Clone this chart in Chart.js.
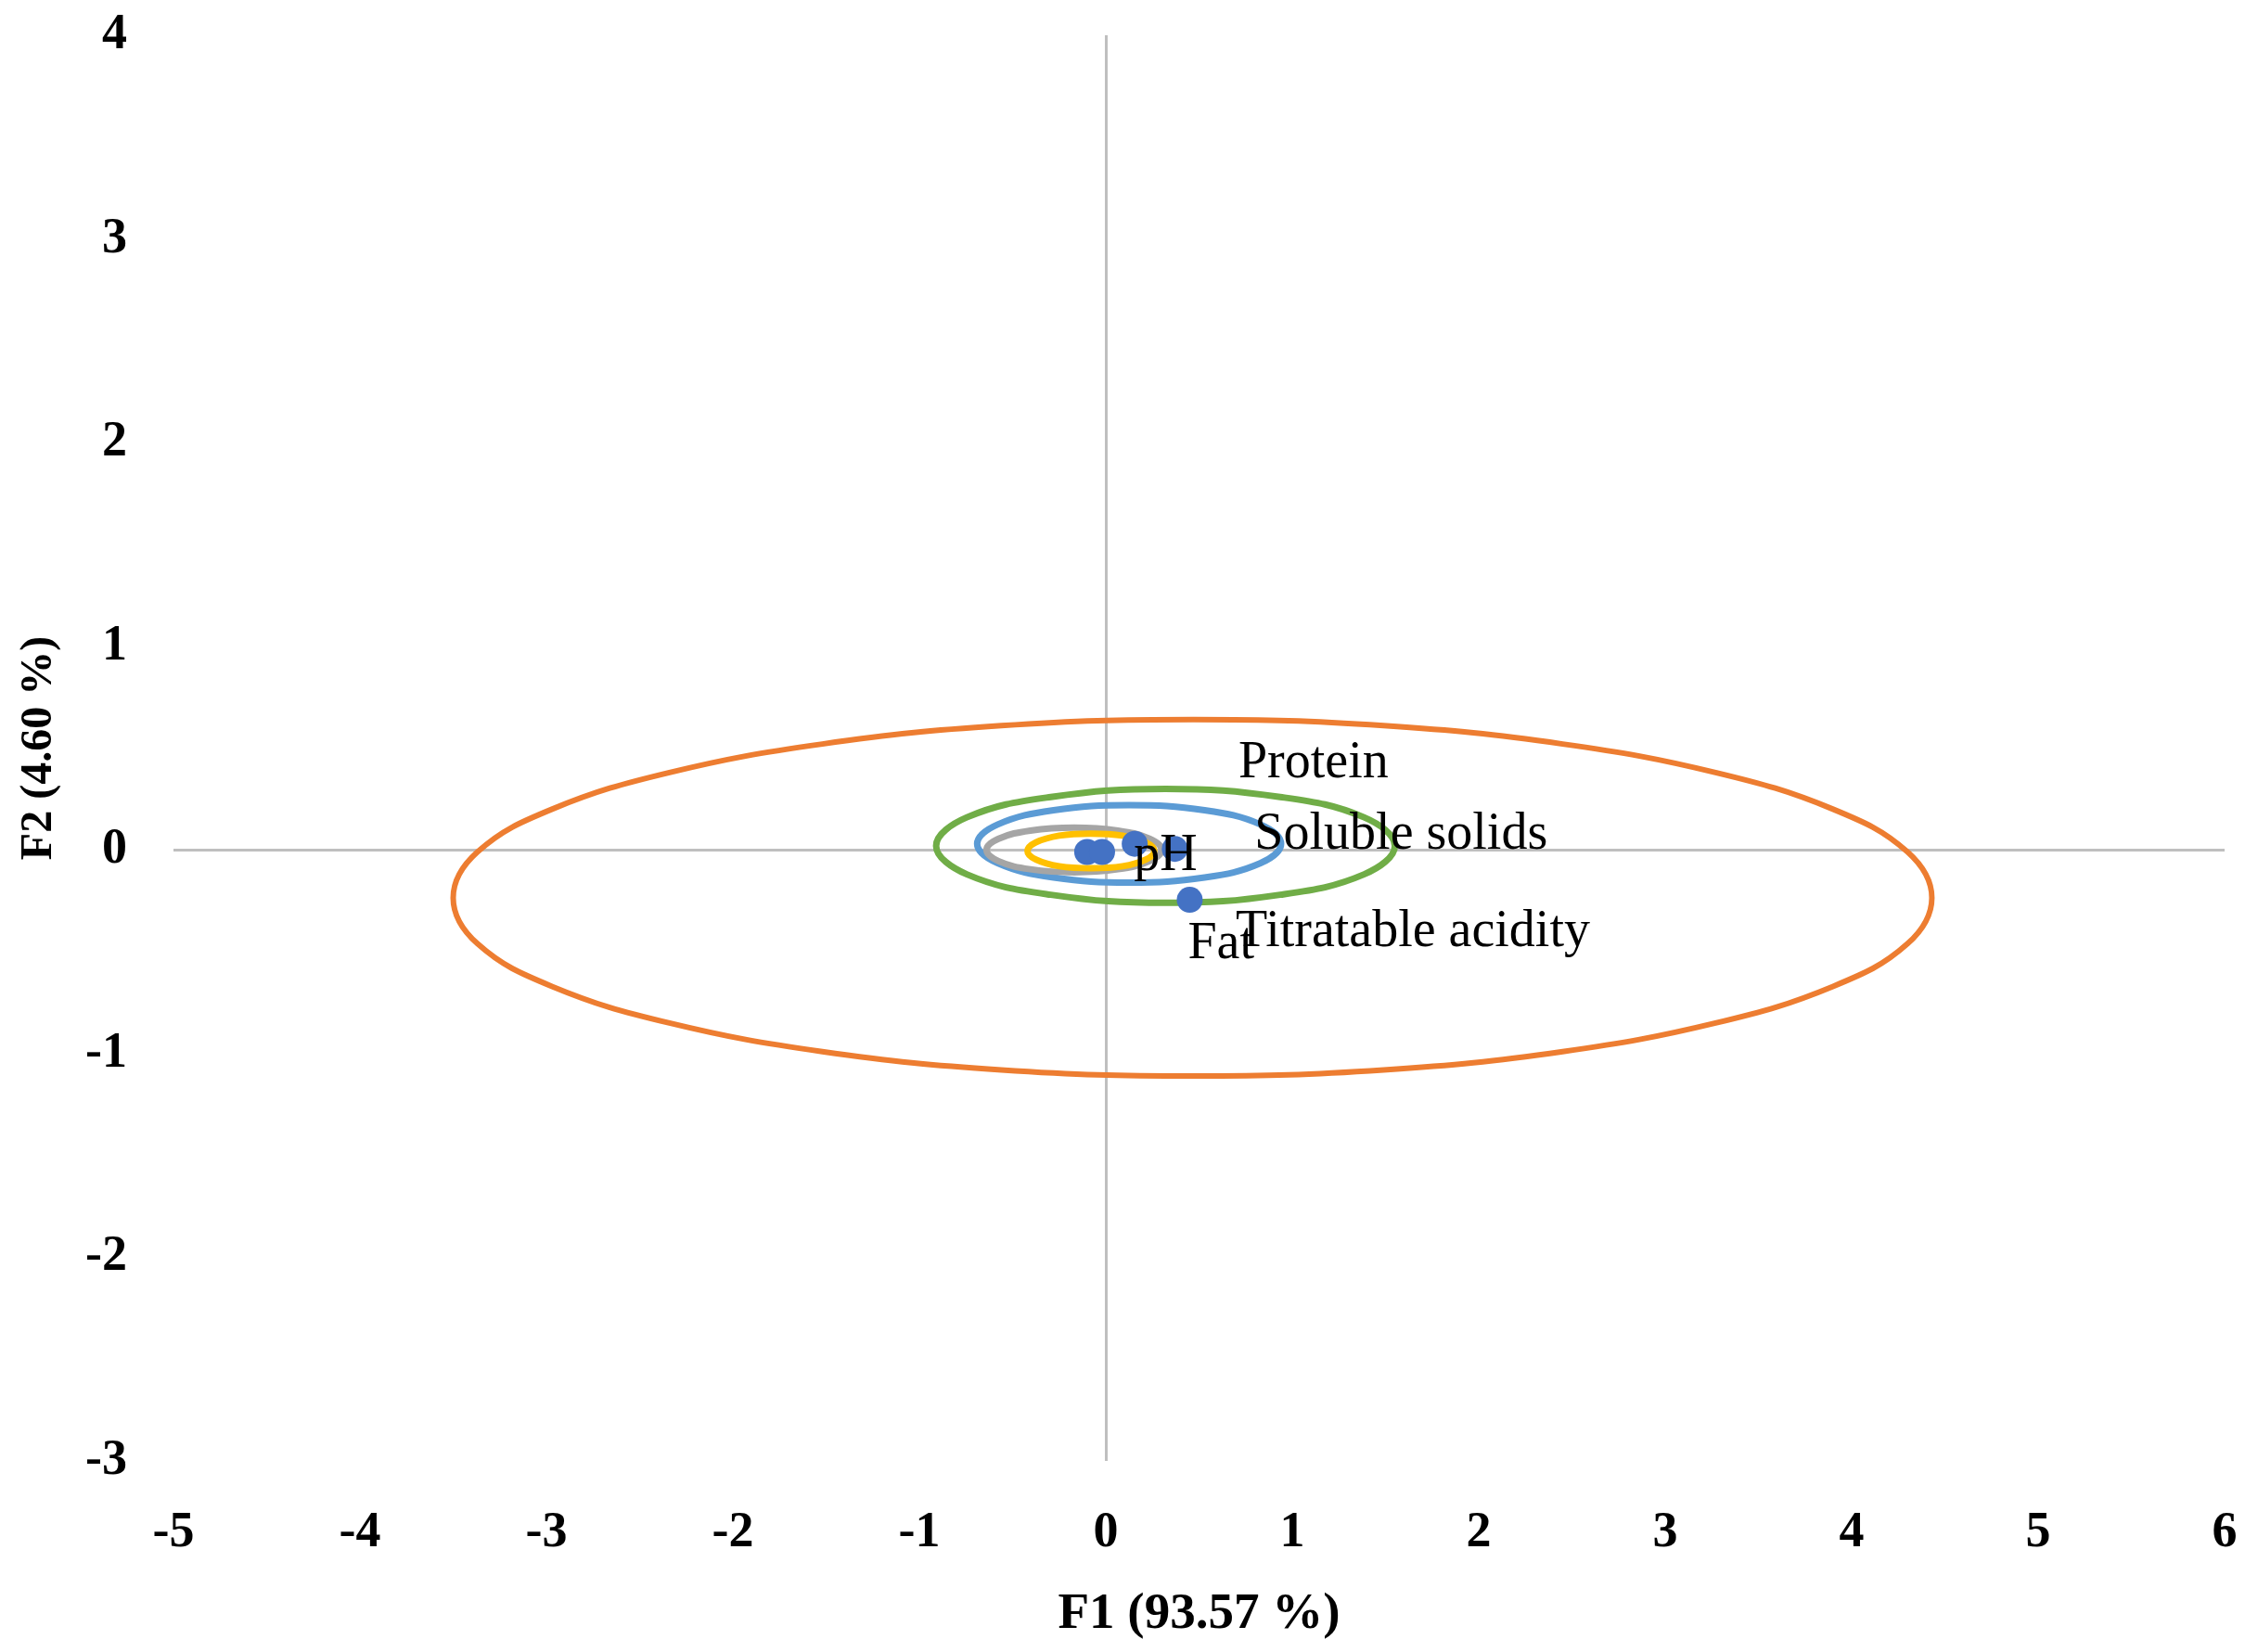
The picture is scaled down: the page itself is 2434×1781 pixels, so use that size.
<!DOCTYPE html>
<html>
<head>
<meta charset="utf-8">
<script src="https://cdn.jsdelivr.net/npm/chart.js@4"></script>
<style>
  html, body { margin: 0; padding: 0; background: #fff; }
  #wrap { width: 2434px; height: 1781px; }
</style>
</head>
<body>
<div id="wrap"><canvas id="grafico" width="2434" height="1781"></canvas></div>
<script>
// observations (F1, F2)
const obsNames = ["Titratable acidity", "Protein", "pH", "Soluble solids", "Fat"];
const obsF1 = [-0.10, -0.02, 0.155, 0.37, 0.45];
const obsF2 = [-0.01, -0.01, 0.03, 0.005, -0.245];

// confidence ellipses, outline points (closed loops)
const orangeEllipse = [
  [0.47, 0.64], [1.49, 0.61], [2.45, 0.52], [3.27, 0.38], [3.90, 0.20], [4.30, -0.01],
  [4.43, -0.235], [4.30, -0.46], [3.90, -0.67], [3.27, -0.85], [2.45, -0.99], [1.49, -1.08],
  [0.47, -1.11], [-0.56, -1.08], [-1.52, -0.99], [-2.34, -0.85], [-2.97, -0.67], [-3.37, -0.46],
  [-3.50, -0.235], [-3.37, -0.01], [-2.97, 0.20], [-2.34, 0.38], [-1.52, 0.52], [-0.56, 0.61]
];
const greenEllipse = [
  [0.32, 0.30], [0.935, 0.26], [1.385, 0.16], [1.55, 0.02], [1.385, -0.12], [0.935, -0.22],
  [0.32, -0.26], [-0.295, -0.22], [-0.745, -0.12], [-0.91, 0.02], [-0.745, 0.16], [-0.295, 0.26]
];
const blueEllipse = [
  [0.125, 0.22], [0.53, 0.195], [0.83, 0.125], [0.94, 0.03], [0.83, -0.065], [0.53, -0.135],
  [0.125, -0.16], [-0.28, -0.135], [-0.58, -0.065], [-0.69, 0.03], [-0.58, 0.125], [-0.28, 0.195]
];
const grayEllipse = [
  [-0.17, 0.11], [0.065, 0.095], [0.235, 0.055], [0.30, 0.0], [0.235, -0.055], [0.065, -0.095],
  [-0.17, -0.11], [-0.405, -0.095], [-0.575, -0.055], [-0.64, 0.0], [-0.575, 0.055], [-0.405, 0.095]
];
const yellowEllipse = [
  [-0.08, 0.08], [0.09, 0.07], [0.215, 0.037], [0.26, -0.005], [0.215, -0.047], [0.09, -0.08],
  [-0.08, -0.09], [-0.25, -0.08], [-0.375, -0.047], [-0.42, -0.005], [-0.375, 0.037], [-0.25, 0.07]
];

const xTicks = [-5, -4, -3, -2, -1, 0, 1, 2, 3, 4, 5, 6];
const yTicks = [-3, -2, -1, 0, 1, 2, 3, 4];

// label offsets in pixels from each point (left edge, baseline)
const labelOffsets = [[160, 102], [147, -80], [-1, 28], [86, 0], [-2, 63]];

const serif = "'Liberation Serif', 'Times New Roman', serif";

// wrap the loop with one extra point on each side so the spline closes smoothly,
// then hide those two helper segments
function ellipseSet(pts, cor, larg) {
  const n = pts.length;
  const loop = [pts[n - 1], ...pts, pts[0], pts[1]].map((p) => ({ x: p[0], y: p[1] }));
  const last = loop.length - 1;
  return {
    data: loop,
    showLine: true,
    borderColor: cor,
    borderWidth: larg,
    pointRadius: 0,
    tension: 0.4,
    fill: false,
    order: 2,
    segment: {
      borderColor: (c) => (c.p0DataIndex === 0 || c.p1DataIndex === last ? "rgba(0,0,0,0)" : undefined),
    },
  };
}

const rotulos = {
  id: "rotulos",
  afterDatasetsDraw(chart) {
    const meta = chart.getDatasetMeta(0);
    const ctx = chart.ctx;
    ctx.save();
    ctx.font = "56px " + serif;
    ctx.fillStyle = "#000";
    ctx.textAlign = "left";
    ctx.textBaseline = "alphabetic";
    meta.data.forEach((pt, i) => {
      const off = labelOffsets[i];
      ctx.fillText(obsNames[i], pt.x + off[0], pt.y + off[1]);
    });
    ctx.restore();
  },
};

const zeroGrid = (c) => (c.tick && c.tick.value === 0 ? "#BFBFBF" : "rgba(0,0,0,0)");

new Chart(document.getElementById("grafico"), {
  type: "scatter",
  data: {
    datasets: [
      {
        data: obsF1.map((v, i) => ({ x: v, y: obsF2[i] })),
        backgroundColor: "#4472C4",
        borderColor: "#4472C4",
        pointRadius: 14,
        pointBorderWidth: 0,
        order: 1,
      },
      ellipseSet(yellowEllipse, "#FFC000", 7),
      ellipseSet(grayEllipse, "#A5A5A5", 7),
      ellipseSet(blueEllipse, "#5B9BD5", 7),
      ellipseSet(greenEllipse, "#70AD47", 7),
      ellipseSet(orangeEllipse, "#ED7D31", 6),
    ],
  },
  options: {
    responsive: false,
    animation: false,
    devicePixelRatio: 1,
    layout: { padding: { left: 0, right: 36, top: 38, bottom: 0 } },
    plugins: { legend: { display: false }, tooltip: { enabled: false } },
    scales: {
      x: {
        type: "linear",
        min: -5,
        max: 6,
        afterBuildTicks: (s) => { s.ticks = xTicks.map((v) => ({ value: v })); },
        afterFit: (s) => { s.height = 206; s.paddingLeft = 0; s.paddingRight = 0; },
        ticks: {
          padding: 46,
          color: "#000",
          font: { family: serif, size: 54, weight: "bold" },
        },
        grid: { color: zeroGrid, lineWidth: 3, drawTicks: false },
        border: { display: false },
        title: {
          display: true,
          text: "F1 (93.57 %)",
          color: "#000",
          font: { family: serif, size: 55, weight: "bold" },
          padding: { top: 0, bottom: 7 },
        },
      },
      y: {
        type: "linear",
        min: -3,
        max: 4,
        afterBuildTicks: (s) => { s.ticks = yTicks.map((v) => ({ value: v })); },
        afterFit: (s) => { s.width = 187; s.paddingTop = 0; s.paddingBottom = 0; },
        ticks: {
          padding: 50,
          color: "#000",
          font: { family: serif, size: 54, weight: "bold" },
        },
        grid: { color: zeroGrid, lineWidth: 3, drawTicks: false },
        border: { display: false },
        title: {
          display: true,
          text: "F2 (4.60 %)",
          color: "#000",
          font: { family: serif, size: 48, weight: "bold" },
          padding: { top: 14, bottom: 0 },
        },
      },
    },
  },
  plugins: [rotulos],
});
</script>
</body>
</html>
